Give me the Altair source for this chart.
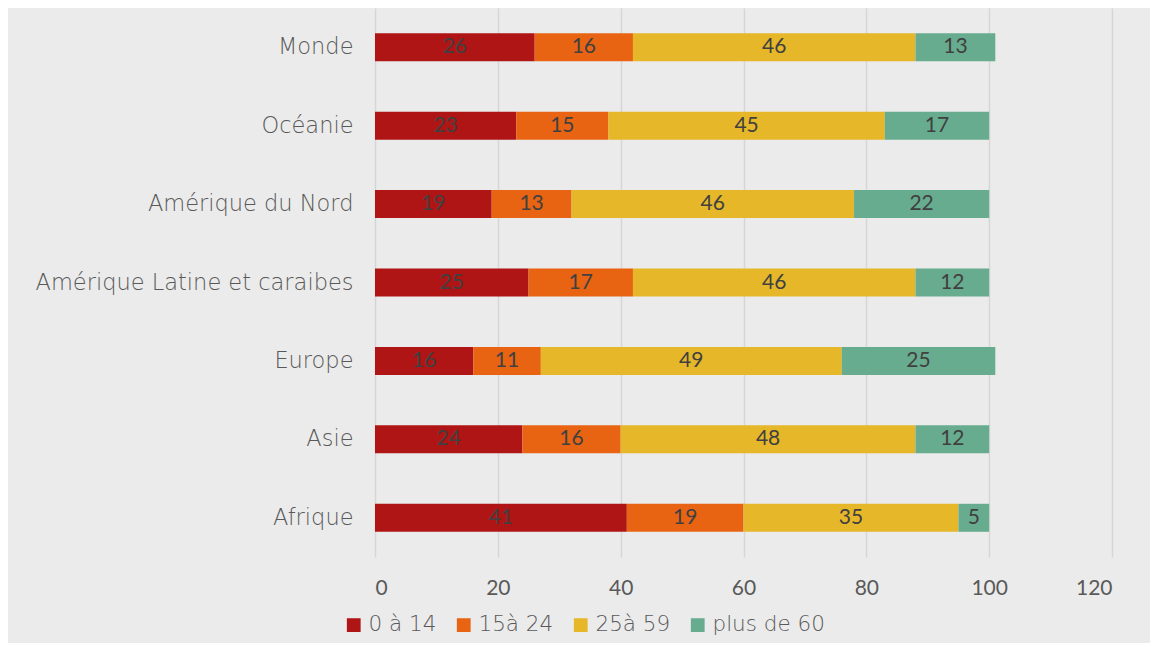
import altair as alt
import pandas as pd

regions = ["Monde", "Océanie\u00a0", "Amérique du Nord", "Amérique Latine et caraibes",
           "Europe", "Asie", "Afrique"]
groups = ["0 à 14", "15à 24", "25à 59", "plus de 60"]
v_0_14 = [26, 23, 19, 25, 16, 24, 41]
v_15_24 = [16, 15, 13, 17, 11, 16, 19]
v_25_59 = [46, 45, 46, 46, 49, 48, 35]
v_60 = [13, 17, 22, 12, 25, 12, 5]
colors = ["#b01515", "#e86413", "#e6b729", "#68ac8f"]

rows = []
for gi, (g, vals) in enumerate(zip(groups, [v_0_14, v_15_24, v_25_59, v_60])):
    for r, v in zip(regions, vals):
        rows.append({"region": r, "group": g, "order": gi, "value": v})
df = pd.DataFrame(rows)

FONT = "DejaVu Sans"
NUMFONT = "Lato"
TXT = "#595959"

base = alt.Chart(df).transform_stack(
    stack="value", groupby=["region"], as_=["x0", "x1"],
    sort=[alt.SortField("order", order="ascending")]
).transform_calculate(mid="(datum.x0 + datum.x1) / 2")

xscale = alt.Scale(domain=[0, 120], nice=False)
yenc = alt.Y("region:N", sort=regions, title=None,
             scale=alt.Scale(paddingInner=0.64, paddingOuter=0.32),
             axis=alt.Axis(labelFontSize=22.5, labelColor=TXT, labelFont=FONT,
                           labelFontWeight=300,
                           ticks=False, domain=False, labelPadding=22, labelLimit=400))

bars = base.mark_bar(size=28).encode(
    x=alt.X("x0:Q", scale=xscale, title=None,
            axis=alt.Axis(values=[0, 20, 40, 60, 80, 100, 120], labelFontSize=21,
                          labelColor=TXT, labelFont=NUMFONT, ticks=False, domain=False,
                          labelPadding=20, grid=True, gridColor="#d6d6d6", gridWidth=1.5)),
    x2="x1:Q",
    y=yenc,
    color=alt.Color("group:N", sort=groups,
                    scale=alt.Scale(domain=groups, range=colors),
                    legend=alt.Legend(title=None, orient="none", direction="horizontal",
                                      legendX=-32, legendY=606, symbolType="square",
                                      symbolSize=190, symbolStrokeWidth=0,
                                      labelFontSize=21.5, labelColor=TXT, labelFont=FONT,
                                      labelFontWeight=300,
                                      columnPadding=16, labelOffset=4)),
)

labels = base.mark_text(fontSize=21, color="#404040", font=NUMFONT).encode(
    x=alt.X("mid:Q", scale=xscale),
    y=alt.Y("region:N", sort=regions),
    text="value:Q",
)

chart = (bars + labels).properties(
    width=737, height=549, background="#ebebeb",
    padding={"left": 367, "top": 0, "right": 38, "bottom": 86},
    autosize=alt.AutoSizeParams(type="none"),
).configure_view(stroke=None, fill="#ebebeb")

chart.save("out.html", embed_options={"renderer": "svg", "actions": False})
